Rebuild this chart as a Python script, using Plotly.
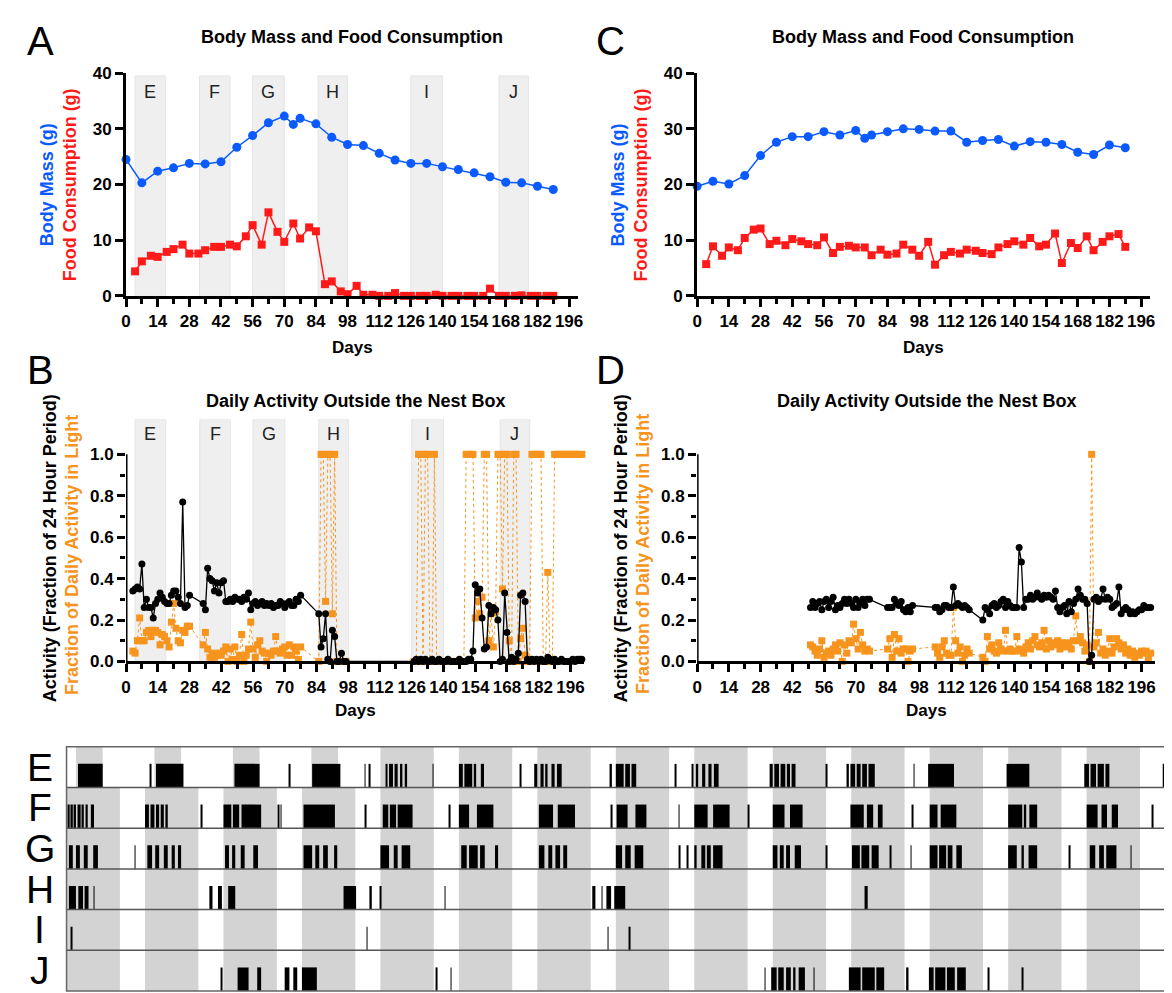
import plotly.graph_objects as go

W, H = 1172, 993
FONT = "Liberation Sans, Arial, sans-serif"
BLUE = "#0A5AFF"
RED = "#FF1A1A"
ORANGE = "#F7941D"
SHADE = "#EFEFEF"

# ---------------- Panel A : body mass / food (animal with torpor) ----------------
bm_days = [0, 7, 14, 21, 28, 35, 42, 49, 56, 63, 70, 74, 77, 84, 91, 98, 105, 112, 119,
           126, 133, 140, 147, 154, 161, 168, 175, 182, 189]
bm_A = [24.5, 20.3, 22.4, 23.0, 23.8, 23.7, 24.1, 26.7, 28.8, 31.1, 32.3, 30.8, 31.9, 30.9,
        28.5, 27.2, 27.0, 25.6, 24.4, 23.8, 23.8, 23.2, 22.7, 22.1, 21.4, 20.4, 20.3, 19.7, 19.1]
food_days = [4, 7, 11, 14, 18, 21, 25, 28, 32, 35, 39, 42, 46, 49, 53, 56, 60, 63, 67, 70,
             74, 77, 81, 84, 88, 91, 95, 98, 102, 105, 109, 112, 116, 119, 123, 126, 130, 133,
             137, 140, 144, 147, 151, 154, 158, 161, 165, 168, 172, 175, 179, 182, 186, 189]
food_A = [4.4, 6.2, 7.2, 7.0, 7.9, 8.4, 9.2, 7.6, 7.6, 8.2, 8.8, 8.8, 9.2, 8.9, 10.7, 12.7,
          9.2, 15.0, 11.5, 9.7, 13.0, 10.3, 12.3, 11.6, 2.1, 2.6, 0.8, 0.3, 1.8, 0.2, 0.2, 0.0,
          0.0, 0.5, 0, 0, 0, 0, 0.2, 0, 0, 0, 0, 0, 0, 1.3, 0, 0, 0, 0.1, 0, 0, 0, 0]

# ---------------- Panel C ----------------
bm_C = [19.7, 20.6, 20.1, 21.6, 25.2, 27.6, 28.6, 28.6, 29.5, 28.9, 29.7, 28.3, 28.9, 29.5,
        30.0, 29.9, 29.6, 29.6, 27.6, 27.9, 28.1, 26.9, 27.7, 27.6, 27.2, 25.8, 25.4, 27.1, 26.6]
food_C = [5.7, 8.9, 7.2, 8.7, 8.2, 10.4, 11.9, 12.1, 9.3, 9.9, 9.1, 10.2, 9.8, 9.3, 9.1, 10.5,
          7.7, 8.8, 9.0, 8.7, 8.7, 7.3, 8.3, 7.4, 7.6, 9.2, 8.3, 7.2, 9.7, 5.6, 7.3, 7.9, 7.6,
          8.3, 8.1, 7.7, 7.5, 8.7, 9.3, 9.8, 9.2, 10.4, 8.9, 9.2, 11.2, 5.9, 9.5, 8.6, 10.7,
          8.2, 9.7, 10.7, 11.1, 8.8]

# shaded two-week windows shown in actograms E-J
period_labels = ["E", "F", "G", "H", "I", "J"]
period_start = [4, 32.5, 56, 85, 126, 165]
period_end = [17.5, 46, 70, 98, 140, 178]

# ---------------- Panel B : daily activity (recorded in consecutive-day segments) ----------------
B_seg_start = [3, 34, 85, 127]
B_act = [
    [.34, .35, .36, .35, .47, .26, .30, .26, .26, .21, .28, .30, .33, .31, .29, .28, .28, .32,
     .34, .34, .31, .28, .77, .26, .27, .32],
    [.28, .25, .45, .40, .39, .34, .38, .33, .38, .39, .29, .29, .30, .29, .31, .30, .30, .29,
     .31, .30, .33, .25, .28, .29, .27, .28, .29, .27, .28, .27, .28, .26, .27, .27, .29, .28,
     .26, .28, .29, .27, .27, .30, .29, .32],
    [.23, .07, .11, .23, .01, .0, .15, .12, .0, .0, .04, .0, .0],
    [.0, .01, .0, .01, .0, .01, .0, .0, .01, .0, .0, .01, .0, .0, .0, .01, .0, .0, .0, .0, .01,
     .0, .0, .0, .01, .01,
     .05, .37, .33, .35, .21, .06, .07, .27, .23, .26, .25, .20, .0, .01, .33, .14, .0, .02,
     .0, .01, .04, .32, .33, .29, .01,
     .0, .01, .0, .01, .0, .01, .0, .0, .02, .01, .0, .01, .0, .0, .01, .0, .0, .0, .0, .01,
     .0, .01, .01, .01],
]
B_light = [
    [.05, .04, .10, .21, .10, .10, .14, .15, .12, .15, .15, .14, .08, .13, .12, .10, .07, .19,
     .28, .16, .10, .09, .15, .14, .17, .17],
    [.08, .14, .06, .02, .04, .02, .03, .04, .03, .05, .07, .0, .06, .01, .07, .0, .03, .13,
     .0, .03, .06, .19, .06, .02, .08, .10, .05, .04, .0, .04, .03, .05, .12, .05, .04, .06,
     .07, .03, .08, .03, .07, .05, .01, .07],
    [.0, 1.0, 1.0, .29, 1.0, 1.0, .23, 1.0, .0, .0, .0, .0, .0],
    [.0, .0, 1.0, 1.0, .0, 1.0, 1.0, .0, .0, 1.0, .0, .0,
     0, 0, 0, 0, 0, 0, 0, 0, 0, 0, 0,
     1, 1, 1, 1, .21, .29, .23, .31, 1, 1, .10, .23, .07, .24, 1, 1, .35, 1, 1, .10, 0, 1, 1,
     0, .11, .16, .03, 0,
     0, 1, 1, 1, 1, 1, 0, 0, .43, 0, 0, 1, 1, 1, 1, 1, 1, 1, 1, 1, 1, 1, 1, 1],
]

# ---------------- Panel D ----------------
D_seg_start = [50, 84, 105, 126]
D_act = [
    [.26, .29, .26, .28, .29, .25, .29, .30, .26, .29, .31, .25, .27, .26, .28, .30, .28, .30,
     .28, .26, .30, .26, .28, .30, .27, .30, .30],
    [.26, .26, .26, .30, .28, .27, .29, .25, .24, .26, .24, .27],
    [.26, .26, .24, .25, .27, .27, .26, .26, .36, .27, .28, .27, .26, .27, .26, .25],
    [.20, .26, .25, .23, .27, .28, .26, .27, .29, .30, .26, .29, .27, .26, .26, .26, .55, .48,
     .26, .30, .30, .32, .30, .31, .33, .31, .30, .32, .31, .32, .31, .30, .34, .26, .24, .26,
     .27, .23, .29, .24, .28, .30, .35, .32, .30, .30, .28, .0, .03, .30, .31, .29, .30, .35,
     .30, .31, .30, .26, .27, .28, .36, .23, .25, .26, .25, .23, .24, .23, .24, .25, .25, .27,
     .26, .26, .26],
]
D_light = [
    [.08, .07, .05, .03, .06, .10, .02, .04, .05, .03, .06, .08, .05, .09, .00, .08, .04, .10,
     .09, .18, .11, .06, .14, .08, .05, .06, .05],
    [.06, .11, .02, .13, .05, .11, .04, .06, .06, .0, .05, .06],
    [.07, .04, .02, .07, .10, .04, .03, .03, .26, .10, .04, .07, .0, .03, .06, .04],
    [.02, .0, .12, .06, .08, .05, .04, .09, .06, .05, .15, .05, .06, .05, .05, .12, .06, .05,
     .04, .07, .09, .06, .10, .12, .08, .07, .09, .15, .06, .10, .07, .09, .08, .10, .06, .09,
     .07, .09, .08, .06, .10, .22, .10, .12, .09, .05, .08, .0, 1.0, .07, .09, .14, .04, .06,
     .03, .05, .11, .04, .07, .11, .09, .06, .08, .04, .06, .03, .05, .02, .04, .03, .05, .04,
     .05, .01, .04],
]

# ---------------- Actograms E-J (14 days each) ----------------
acto_rows = ["E", "F", "G", "H", "I", "J"]
dark_E = [(0.12, 0.46), (1.12, 1.46), (2.12, 2.46), (3.12, 3.46), (4.0, 4.68), (5.0, 5.68),
          (6.0, 6.68), (7.0, 7.68), (8.0, 8.68), (9.0, 9.68), (10.0, 10.68), (11.0, 11.68),
          (12.0, 12.68), (13.0, 13.68)]
dark_other = [(0.0, 0.68), (1.0, 1.68), (2.0, 2.68), (3.0, 3.68), (4.0, 4.68), (5.0, 5.68),
              (6.0, 6.68), (7.0, 7.68), (8.0, 8.68), (9.0, 9.68), (10.0, 10.68), (11.0, 11.68),
              (12.0, 12.68), (13.0, 13.68)]
act_E = [(0.146, 0.461), (1.07, 1.076), (1.14, 1.49), (2.14, 2.46), (2.84, 2.846), (3.13, 3.49),
         (3.80, 3.81), (3.85, 3.87), (4.07, 4.09), (4.11, 4.16), (4.18, 4.22), (4.25, 4.28),
         (4.31, 4.34), (4.67, 4.676), (5.0, 5.05), (5.07, 5.17), (5.19, 5.22), (5.28, 5.32),
         (5.78, 5.786), (5.96, 6.0), (6.04, 6.08), (6.10, 6.13), (6.18, 6.22), (6.25, 6.31),
         (6.92, 6.95), (7.0, 7.1), (7.12, 7.18), (7.2, 7.26), (7.76, 7.766), (7.97, 7.99),
         (8.02, 8.05), (8.1, 8.14), (8.18, 8.22), (8.25, 8.31), (8.96, 9.0), (9.02, 9.08),
         (9.1, 9.16), (9.18, 9.22), (9.24, 9.29), (9.68, 9.686), (9.94, 9.97), (9.99, 10.05),
         (10.07, 10.12), (10.14, 10.2), (10.22, 10.30), (10.80, 10.806), (10.98, 11.31),
         (11.98, 12.27), (12.97, 13.03), (13.05, 13.12), (13.14, 13.22), (13.24, 13.29),
         (13.97, 14.0)]
act_F = [(0.02, 0.04), (0.05, 0.08), (0.09, 0.12), (0.14, 0.18), (0.2, 0.22), (0.25, 0.27),
         (0.31, 0.35), (1.0, 1.05), (1.07, 1.12), (1.14, 1.18), (1.2, 1.24), (1.26, 1.29),
         (1.72, 1.726), (2.0, 2.1), (2.12, 2.2), (2.23, 2.48), (2.70, 2.71), (2.73, 2.74),
         (3.02, 3.42), (3.81, 3.816), (4.03, 4.1), (4.12, 4.2), (4.22, 4.41), (4.88, 4.886),
         (5.0, 5.13), (5.23, 5.44), (6.02, 6.2), (6.26, 6.48), (6.94, 6.946), (7.01, 7.15),
         (7.25, 7.39), (7.80, 7.806), (8.0, 8.17), (8.24, 8.45), (8.69, 8.696), (9.0, 9.15),
         (9.22, 9.38), (9.99, 10.16), (10.20, 10.28), (10.34, 10.40), (10.78, 10.786),
         (11.0, 11.1), (11.14, 11.34), (12.0, 12.18), (12.2, 12.23), (12.27, 12.37),
         (13.0, 13.14), (13.19, 13.26), (13.32, 13.40), (13.84, 13.846)]
act_G = [(0.03, 0.08), (0.12, 0.17), (0.22, 0.27), (0.34, 0.40), (0.87, 0.876), (1.03, 1.09),
         (1.13, 1.18), (1.24, 1.29), (1.34, 1.38), (1.42, 1.46), (2.02, 2.07), (2.11, 2.15),
         (2.22, 2.27), (2.38, 2.44), (3.02, 3.13), (3.17, 3.22), (3.27, 3.33), (3.41, 3.45),
         (4.0, 4.11), (4.17, 4.22), (4.27, 4.38), (5.03, 5.10), (5.13, 5.24), (5.27, 5.33),
         (5.46, 5.50), (6.02, 6.09), (6.14, 6.19), (6.23, 6.29), (6.33, 6.38), (7.0, 7.08),
         (7.12, 7.19), (7.24, 7.35), (7.81, 7.816), (7.91, 7.916), (8.0, 8.03), (8.09, 8.14),
         (8.16, 8.21), (8.24, 8.36), (9.0, 9.06), (9.09, 9.14), (9.17, 9.22), (9.28, 9.36),
         (9.68, 9.686), (10.01, 10.11), (10.13, 10.23), (10.26, 10.35), (10.50, 10.506),
         (10.76, 10.766), (11.0, 11.1), (11.12, 11.21), (11.23, 11.29), (11.34, 11.41),
         (12.0, 12.11), (12.17, 12.2), (12.26, 12.37), (12.78, 12.786), (13.04, 13.11),
         (13.16, 13.22), (13.25, 13.38), (13.56, 13.566)]
act_H = [(0.03, 0.12), (0.15, 0.21), (0.23, 0.28), (0.35, 0.356), (1.82, 1.86), (1.93, 1.98),
         (2.06, 2.15), (3.53, 3.69), (3.86, 3.89), (4.0, 4.006), (4.82, 4.826), (6.70, 6.74),
         (6.82, 6.826), (6.88, 6.94), (6.98, 7.12), (10.17, 10.21)]
act_I = [(0.06, 0.066), (3.83, 3.836), (6.9, 6.906), (7.17, 7.178)]
act_J = [(1.97, 1.976), (2.18, 2.32), (2.43, 2.48), (2.78, 2.84), (2.89, 2.94), (3.0, 3.19),
         (4.71, 4.716), (4.90, 4.906), (8.90, 8.906), (8.98, 9.05), (9.07, 9.14), (9.17, 9.23),
         (9.26, 9.29), (9.33, 9.41), (9.52, 9.526), (9.97, 10.12), (10.14, 10.3), (10.32, 10.42),
         (10.70, 10.73), (10.99, 11.05), (11.07, 11.2), (11.22, 11.32), (11.35, 11.46),
         (11.75, 11.756), (12.18, 12.186)]
acto_dark = [dark_E, dark_other, dark_other, dark_other, dark_other, dark_other]
acto_act = [act_E, act_F, act_G, act_H, act_I, act_J]


# ---------------- helpers ----------------
def seg_xy(starts, segs):
    xs, ys = [], []
    for s, vals in zip(starts, segs):
        for i, v in enumerate(vals):
            xs.append(s + i)
            ys.append(v)
    return xs, ys


def px(x):
    return x / W


def py(y):
    return 1 - y / H


# layout boxes in pixels: (x0, x1, ytop, ybottom)
boxA = (114, 570, 57.3, 284.3)
boxC = (690, 1147, 57.3, 284.3)
boxB = (114, 576, 410, 657)
boxD = (690, 1152, 410, 657)
boxE = (54, 1162, 744, 993)

fig = go.Figure()

# ---- Panel A ----
fig.add_trace(go.Scatter(x=food_days, y=food_A, mode="lines+markers", xaxis="x", yaxis="y",
                         line=dict(color=RED, width=1.5),
                         marker=dict(symbol="square", size=8, color=RED), cliponaxis=False))
fig.add_trace(go.Scatter(x=bm_days, y=bm_A, mode="lines+markers", xaxis="x", yaxis="y",
                         line=dict(color=BLUE, width=1.5),
                         marker=dict(symbol="circle", size=9, color=BLUE), cliponaxis=False))
# ---- Panel C ----
fig.add_trace(go.Scatter(x=food_days, y=food_C, mode="lines+markers", xaxis="x2", yaxis="y2",
                         line=dict(color=RED, width=1.5),
                         marker=dict(symbol="square", size=8, color=RED), cliponaxis=False))
fig.add_trace(go.Scatter(x=bm_days, y=bm_C, mode="lines+markers", xaxis="x2", yaxis="y2",
                         line=dict(color=BLUE, width=1.5),
                         marker=dict(symbol="circle", size=9, color=BLUE), cliponaxis=False))
# ---- Panel B ----
bx, by = seg_xy(B_seg_start, B_light)
fig.add_trace(go.Scatter(x=bx, y=by, mode="lines+markers", xaxis="x3", yaxis="y3",
                         line=dict(color=ORANGE, width=1, dash="dot"),
                         marker=dict(symbol="square", size=7, color=ORANGE), cliponaxis=False))
bx, by = seg_xy(B_seg_start, B_act)
fig.add_trace(go.Scatter(x=bx, y=by, mode="lines+markers", xaxis="x3", yaxis="y3",
                         line=dict(color="black", width=1.3),
                         marker=dict(symbol="circle", size=7, color="black"), cliponaxis=False))
# ---- Panel D ----
dx, dy = seg_xy(D_seg_start, D_light)
fig.add_trace(go.Scatter(x=dx, y=dy, mode="lines+markers", xaxis="x4", yaxis="y4",
                         line=dict(color=ORANGE, width=1, dash="dot"),
                         marker=dict(symbol="square", size=7, color=ORANGE), cliponaxis=False))
dx, dy = seg_xy(D_seg_start, D_act)
fig.add_trace(go.Scatter(x=dx, y=dy, mode="lines+markers", xaxis="x4", yaxis="y4",
                         line=dict(color="black", width=1.3),
                         marker=dict(symbol="circle", size=7, color="black"), cliponaxis=False))

# ---- Actograms ----
gx, gw, gb = [], [], []
ax_, aw, ab = [], [], []
for r, (dark, act) in enumerate(zip(acto_dark, acto_act)):
    bottom = len(acto_rows) - 1 - r
    for s, e in dark:
        gx.append((s + e) / 2); gw.append(e - s); gb.append(bottom)
    for s, e in act:
        ax_.append((s + e) / 2); aw.append(e - s); ab.append(bottom)
fig.add_trace(go.Bar(x=gx, y=[1] * len(gx), width=gw, base=gb, xaxis="x5", yaxis="y5",
                     marker=dict(color="#D3D3D3", line=dict(width=0)), hoverinfo="skip"))
fig.add_trace(go.Bar(x=ax_, y=[0.58] * len(ax_), width=aw, base=ab, xaxis="x5", yaxis="y5",
                     marker=dict(color="black", line=dict(width=0)), hoverinfo="skip"))

tickfont = dict(family=FONT, size=17, color="black", weight="bold")


def xax(box, rng):
    return dict(domain=[px(box[0]), px(box[1])], range=rng, tick0=0, dtick=14,
                ticks="outside", ticklen=8, tickwidth=3, tickcolor="black",
                showline=True, linewidth=3, linecolor="black", showgrid=False,
                zeroline=False, tickfont=tickfont, fixedrange=True,
                minor=dict(tick0=0, dtick=7, ticks="outside", ticklen=5, tickwidth=3,
                           tickcolor="black", showgrid=False))


def yax_mass(box, anchor):
    return dict(domain=[py(box[3]), py(box[2])], range=[0, 40], tickvals=[0, 10, 20, 30, 40],
                ticks="outside", ticklen=8, tickwidth=3, tickcolor="black",
                showline=True, linewidth=3, linecolor="black", showgrid=False,
                zeroline=False, tickfont=tickfont, anchor=anchor)


def yax_act(box, anchor):
    return dict(domain=[py(box[3]), py(box[2])], range=[0, 1.17],
                tickvals=[0, 0.2, 0.4, 0.6, 0.8, 1.0],
                ticktext=["0.0", "0.2", "0.4", "0.6", "0.8", "1.0"],
                ticks="outside", ticklen=8, tickwidth=3, tickcolor="black",
                showline=False, showgrid=False, zeroline=False, tickfont=tickfont,
                anchor=anchor,
                minor=dict(tickmode="array", tickvals=[0.1, 0.3, 0.5, 0.7, 0.9],
                           ticks="outside", ticklen=5, tickwidth=3, tickcolor="black"))


shapes = []
# shaded windows in A and B
for s, e in zip(period_start, period_end):
    shapes.append(dict(type="rect", xref="x", yref="y", x0=s, x1=e, y0=0, y1=39.5,
                       fillcolor=SHADE, line=dict(color="#E4E4E4", width=1), layer="below"))
    shapes.append(dict(type="rect", xref="x3", yref="y3", x0=s, x1=e, y0=0, y1=1.17,
                       fillcolor=SHADE, line=dict(color="#E4E4E4", width=1), layer="below"))
# y axis lines that stop at 1.0 in B and D
for xr, yr in (("x3", "y3"), ("x4", "y4")):
    shapes.append(dict(type="line", xref=xr, yref=yr, x0=0, x1=0, y0=0, y1=1.0,
                       line=dict(color="black", width=3)))
# actogram row separators and frame
for k in range(1, len(acto_rows)):
    shapes.append(dict(type="line", xref="x5 domain", yref="y5", x0=0, x1=1, y0=k, y1=k,
                       line=dict(color="#555555", width=1.5)))
shapes.append(dict(type="rect", xref="x5 domain", yref="y5 domain", x0=0, x1=1, y0=0, y1=1,
                   line=dict(color="#666666", width=1.5)))

ann = []
def text(x, y, t, size, color="black", angle=0, bold=False, xanchor="center"):
    ann.append(dict(x=px(x), y=py(y), xref="paper", yref="paper", text=t, showarrow=False,
                    textangle=angle, xanchor=xanchor, yanchor="middle",
                    font=dict(family=FONT, size=size, color=color,
                              weight="bold" if bold else "normal")))

# panel letters
text(28, 24, "A", 40)
text(28, 360, "B", 40)
text(603, 24, "C", 40)
text(603, 360, "D", 40)
# titles
text(342, 20, "Body Mass and Food Consumption", 18, bold=True)
text(918, 20, "Body Mass and Food Consumption", 18, bold=True)
text(345, 392, "Daily Activity Outside the Nest Box", 18, bold=True)
text(921, 392, "Daily Activity Outside the Nest Box", 18, bold=True)
# Days
for xc, yc in ((342, 337), (918, 337), (345, 707), (921, 707)):
    text(xc, yc, "Days", 17, bold=True)
# y titles
ytitle_mass = (f"<span style='color:{BLUE}'>Body Mass (g)</span><br>"
               f"<span style='color:{RED}'>Food Consumption (g)</span>")
text(46, 171, ytitle_mass, 18, angle=-90, bold=True)
text(622, 171, ytitle_mass, 18, angle=-90, bold=True)
for axis_x in (114, 690):
    text(axis_x - 77, 542, "Activity (Fraction of 24 Hour Period)", 18, angle=-90, bold=True)
    text(axis_x - 55, 548, "Fraction of Daily Activity in Light", 18, color=ORANGE,
         angle=-90, bold=True)
# window letters
for lab, s, e in zip(period_labels, period_start, period_end):
    ann.append(dict(x=(s + e) / 2, y=36.6, xref="x", yref="y", text=lab, showarrow=False,
                    font=dict(family=FONT, size=18, color="#222222")))
    ann.append(dict(x=(s + e) / 2, y=1.10, xref="x3", yref="y3", text=lab, showarrow=False,
                    font=dict(family=FONT, size=18, color="#222222")))
# actogram row labels
for r, lab in enumerate(acto_rows):
    ann.append(dict(x=px(27), y=len(acto_rows) - 0.5 - r, xref="paper", yref="y5", text=lab,
                    showarrow=False, xanchor="center", yanchor="middle",
                    font=dict(family=FONT, size=39, color="black")))

fig.update_layout(
    width=W, height=H, margin=dict(l=0, r=0, t=0, b=0),
    paper_bgcolor="white", plot_bgcolor="rgba(0,0,0,0)",
    showlegend=False, barmode="overlay",
    xaxis=xax(boxA, [0, 200]), yaxis=yax_mass(boxA, "x"),
    xaxis2=xax(boxC, [0, 200]) | dict(anchor="y2"), yaxis2=yax_mass(boxC, "x2"),
    xaxis3=xax(boxB, [0, 202]) | dict(anchor="y3"), yaxis3=yax_act(boxB, "x3"),
    xaxis4=xax(boxD, [0, 202]) | dict(anchor="y4"), yaxis4=yax_act(boxD, "x4"),
    xaxis5=dict(domain=[px(boxE[0]), px(boxE[1])], range=[0, 14], visible=False,
                anchor="y5", fixedrange=True),
    yaxis5=dict(domain=[py(boxE[3]), py(boxE[2])], range=[0, 6], visible=False,
                anchor="x5", fixedrange=True),
    shapes=shapes, annotations=ann,
)
fig.update_layout(xaxis=dict(anchor="y"))

fig.write_html("out.html")
